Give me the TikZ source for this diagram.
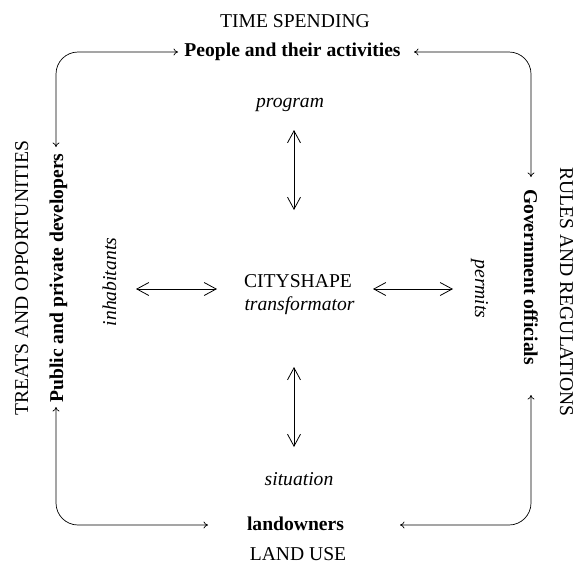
\documentclass[tikz,border=0pt]{standalone}
\usepackage{fontspec}
\setmainfont{Liberation Serif}
\usetikzlibrary{arrows.meta}
\begin{document}
\begin{tikzpicture}[x=1pt,y=-1pt,
  every node/.style={inner sep=0pt,anchor=base,font=\fontsize{19.6}{23.5}\selectfont},
  bf/.style={font=\fontsize{19.6}{23.5}\selectfont\bfseries},
  it/.style={font=\fontsize{19.6}{23.5}\selectfont\itshape},
  outer/.style={line width=0.7pt,rounded corners=22pt,{To[length=4.5pt,width=7pt]}-{To[length=4.5pt,width=7pt]}},
  inner/.style={line width=0.8pt,{Straight Barb[length=12pt,width=13pt]}-{Straight Barb[length=12pt,width=13pt]}}]
\useasboundingbox (0,0) rectangle (575,563);
% texts
\node (time) at (295,27) {TIME SPENDING};
\node[bf] (people) at (292.5,56) {People and their activities};
\node[it] (program) at (290,107) {program};
\node (city) at (298,287) {CITYSHAPE};
\node[it] (trans) at (299.5,310) {transformator};
\node[it] (situation) at (299,485) {situation};
\node[bf] (land) at (295.5,530) {landowners};
\node (landuse) at (298,560) {LAND USE};
\node[rotate=90] (treats) at (28,278) {TREATS AND OPPORTUNITIES};
\node[bf,rotate=90] (public) at (63,278) {Public and private developers};
\node[it,rotate=90] (inhab) at (116,282) {inhabitants};
\node[it,rotate=-90] (permits) at (475,289) {permits};
\node[bf,rotate=-90] (gov) at (524,277) {Government officials};
\node[rotate=-90] (rules) at (560,292) {RULES AND REGULATIONS};
% arrow end points
\coordinate (tl) at (178,52);
\coordinate (tr) at (414,52);
\coordinate (lt) at (56,147);
\coordinate (lb) at (56,407);
\coordinate (bl) at (208,525);
\coordinate (br) at (400,525);
\coordinate (rt) at (531,177);
\coordinate (rb) at (531,395);
\draw[outer] (lt) -- (56,52) -- (tl);
\draw[outer] (tr) -- (531,52) -- (rt);
\draw[outer] (lb) -- (56,525) -- (bl);
\draw[outer] (br) -- (531,525) -- (rb);
% centre arrows
\coordinate (ct1) at (294,130);
\coordinate (ct2) at (294,210);
\coordinate (cb1) at (294,367);
\coordinate (cb2) at (294,447);
\coordinate (cl1) at (136,289);
\coordinate (cl2) at (217,289);
\coordinate (cr1) at (373,289);
\coordinate (cr2) at (453,289);
\draw[inner] (ct1) -- (ct2);
\draw[inner] (cb1) -- (cb2);
\draw[inner] (cl1) -- (cl2);
\draw[inner] (cr1) -- (cr2);
\end{tikzpicture}
\end{document}
